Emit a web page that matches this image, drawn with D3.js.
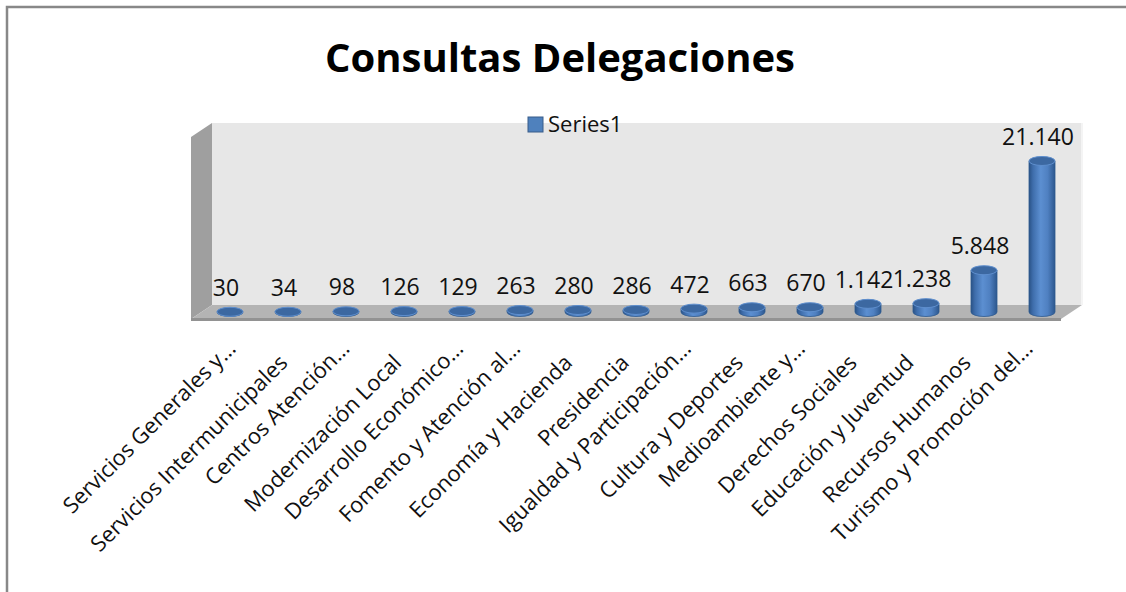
<!DOCTYPE html>
<html>
<head>
<meta charset="utf-8">
<script src="https://cdn.jsdelivr.net/npm/d3@7"></script>
<style>
  body { margin: 0; background: #fff; }
  svg { display: block; font-family: "Open Sans", sans-serif; }
</style>
</head>
<body>
<div id="chart"></div>
<script>
const title = "Consultas Delegaciones";
const seriesName = "Series1";
const categories = [
  "Servicios Generales y…",
  "Servicios Intermunicipales",
  "Centros Atención…",
  "Modernización Local",
  "Desarrollo Económico…",
  "Fomento y Atención al…",
  "Economía y Hacienda",
  "Presidencia",
  "Igualdad y Participación…",
  "Cultura y Deportes",
  "Medioambiente y…",
  "Derechos Sociales",
  "Educación y Juventud",
  "Recursos Humanos",
  "Turismo y Promoción del…"
];
const values = [30, 34, 98, 126, 129, 263, 280, 286, 472, 663, 670, 1142, 1238, 5848, 21140];
const yDomain = [0, 25000];

const w = 1126;
const h = 592;

// 3d box layout (back wall, side wall, floor)
const wallLeft = 212, wallRight = 1082, wallTop = 123, floorBack = 305;
const depthX = 21, depthY = 14;

const es = d3.formatLocale({decimal: ",", thousands: ".", grouping: [3], currency: ["", " €"]});
const fmt = es.format(",d");

const data = categories.map((c, i) => ({name: c, value: values[i]}));

const svg = d3.select("#chart")
  .append("svg")
  .attr("width", w)
  .attr("height", h);

//-------------------gradients---------------------------
const defs = svg.append("defs");
const grad = defs.append("linearGradient")
  .attr("id", "cyl")
  .attr("x1", 0).attr("x2", 1).attr("y1", 0).attr("y2", 0);
[[0, "#2a5286"], [0.15, "#3e6dab"], [0.45, "#5c8fd1"], [0.72, "#4f80c1"], [1, "#2c578e"]]
  .forEach(s => grad.append("stop").attr("offset", s[0]).attr("stop-color", s[1]));

// frame (only top and left edges are visible in the picture)
svg.append("rect")
  .attr("x", 7).attr("y", 7)
  .attr("width", w + 20).attr("height", h + 20)
  .attr("fill", "none")
  .attr("stroke", "#888")
  .attr("stroke-width", 2.5);

svg.append("text")
  .attr("x", 560)
  .attr("y", 72)
  .attr("text-anchor", "middle")
  .attr("font-size", 40)
  .attr("font-weight", "bold")
  .attr("fill", "#000")
  .text(title);

//-------------------walls---------------------------
const walls = svg.append("g");
walls.append("polygon")
  .attr("points", [[wallLeft - depthX, wallTop + depthY], [wallLeft, wallTop], [wallLeft, floorBack], [wallLeft - depthX, floorBack + depthY]].join(" "))
  .attr("fill", "#9f9f9f");
walls.append("rect")
  .attr("x", wallLeft).attr("y", wallTop)
  .attr("width", wallRight - wallLeft).attr("height", floorBack - wallTop)
  .attr("fill", "#e7e7e7");
walls.append("line")
  .attr("x1", wallRight).attr("x2", wallRight)
  .attr("y1", wallTop).attr("y2", floorBack)
  .attr("stroke", "#f4f4f4").attr("stroke-width", 2);
// floor top face + front edge
walls.append("polygon")
  .attr("points", [[wallLeft, floorBack], [wallRight, floorBack], [wallRight - depthX, floorBack + depthY], [wallLeft - depthX, floorBack + depthY]].join(" "))
  .attr("fill", "#b4b4b4");
walls.append("polygon")
  .attr("points", [[wallLeft - depthX, floorBack + depthY - 1], [wallRight - depthX, floorBack + depthY - 1], [wallRight - depthX, floorBack + depthY + 2], [wallLeft - depthX, floorBack + depthY + 2]].join(" "))
  .attr("fill", "#929292");

//-------------------scales---------------------------
const x = d3.scalePoint()
  .domain(categories)
  .range([230, 1042]);
// category labels sit on the front edge, slightly tighter spacing
const xLab = d3.scalePoint()
  .domain(categories)
  .range([232, 1029]);
const y = d3.scaleLinear()
  .domain(yDomain)
  .range([312, 312 - 178.6]);

//-------------------legend---------------------------
const legend = svg.append("g").attr("id", "legend");
legend.append("rect")
  .attr("x", 528).attr("y", 117)
  .attr("width", 15).attr("height", 15)
  .attr("fill", "#4f81bd")
  .attr("stroke", "#385d8a");
legend.append("text")
  .attr("x", 548).attr("y", 132)
  .attr("font-size", 22)
  .attr("fill", "#111")
  .text(seriesName);

//-------------------cylinders---------------------------
const r = 13, ry = 4.5;
const bars = svg.append("g")
  .selectAll("g")
  .data(data)
  .enter()
  .append("g");

bars.append("path")
  .attr("d", d => {
    const cx = x(d.name), yb = y(0), yt = y(d.value);
    return `M${cx - r},${yt} L${cx - r},${yb} A${r},${ry} 0 0 0 ${cx + r},${yb} L${cx + r},${yt} Z`;
  })
  .attr("fill", "url(#cyl)")
  .attr("stroke", "#2f5a8f")
  .attr("stroke-width", 0.8);

bars.append("ellipse")
  .attr("cx", d => x(d.name))
  .attr("cy", d => y(d.value))
  .attr("rx", r)
  .attr("ry", ry)
  .attr("fill", "#3c68a1")
  .attr("stroke", "#5e8ecd")
  .attr("stroke-width", 1);

//-------------------value labels---------------------------
svg.append("g")
  .selectAll("text")
  .data(data)
  .enter()
  .append("text")
  .attr("x", d => x(d.name) - 4)
  .attr("y", d => y(d.value) - 16)
  .attr("text-anchor", "middle")
  .attr("font-size", 23)
  .attr("fill", "#111")
  .text(d => fmt(d.value));

//-------------------category labels---------------------------
svg.append("g")
  .selectAll("text")
  .data(categories)
  .enter()
  .append("text")
  .attr("transform", d => {
    // truncated labels end a bit further along
    const cut = d.endsWith("…");
    const px = xLab(d) + (cut ? 5 : 0);
    const py = 364 + (cut ? -14 : 0);
    return "translate(" + px + "," + py + ") rotate(-45)";
  })
  .attr("text-anchor", "end")
  .attr("font-size", 22)
  .attr("fill", "#111")
  .text(d => d);
</script>
</body>
</html>
